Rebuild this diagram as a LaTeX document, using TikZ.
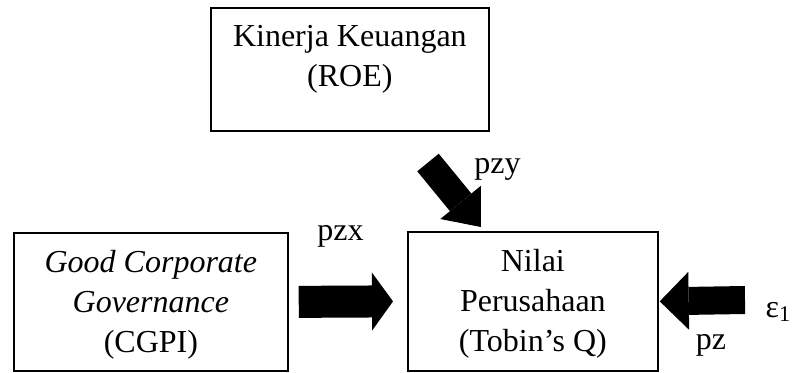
\documentclass[tikz,border=0pt]{standalone}
\usepackage{fontspec}
\setmainfont{Liberation Serif}
\usetikzlibrary{arrows.meta,positioning}

\begin{document}
\begin{tikzpicture}[
    x=0.75pt,y=-0.75pt,
    font=\fontsize{24}{30}\selectfont,
    kotak/.style={draw,line width=1.3pt,inner sep=0pt,anchor=north west},
    isi/.style={align=center,anchor=north,inner sep=0pt},
    panah/.style args={#1/#2/#3}{line width=#1,
                 -{Triangle[length=#2,width=#3,line width=0pt]}}]

  \useasboundingbox (0,0) rectangle (794,372);

  % kotak variabel
  \node[kotak,minimum width=208.5pt,minimum height=92.25pt]  (roe)   at (210,7)   {};
  \node[kotak,minimum width=205.5pt,minimum height=103.5pt]  (gcg)   at (13,232)  {};
  \node[kotak,minimum width=187.5pt,minimum height=104.25pt] (nilai) at (407,231) {};

  \node[isi] (roeteks)   at ([yshift=-13.5pt]roe.north)   {Kinerja Keuangan\\(ROE)};
  \node[isi] (gcgteks)   at ([yshift=-13.5pt]gcg.north)   {\textit{Good Corporate}\\\textit{Governance}\\(CGPI)};
  \node[isi] (nilaiteks) at ([yshift=-13.5pt]nilai.north) {Nilai\\Perusahaan\\(Tobin’s Q)};

  % panah
  \coordinate (pangkaly) at (428,162.5);
  \coordinate (pangkale) at (745,300);

  \draw[panah=24pt/15.75pt/43.5pt] ([xshift=7.5pt]gcg.east) -- ([xshift=-10.5pt]nilai.west);
  \draw[panah=20.8pt/23.9pt/39.4pt] (pangkaly) -- ([xshift=-39pt,yshift=3pt]nilai.north);
  \draw[panah=21pt/21.75pt/43.5pt] (pangkale) -- ([xshift=0.75pt]nilai.east);

  % label
  \node (pzx) at (340.5,236.5) {pzx};
  \node (pzy) at (497.5,169.5) {pzy};
  \node (pz)  at (711,345)     {pz};
  \node[anchor=base west] (eps) at (761,317) {ε\textsubscript{1}};

\end{tikzpicture}
\end{document}
